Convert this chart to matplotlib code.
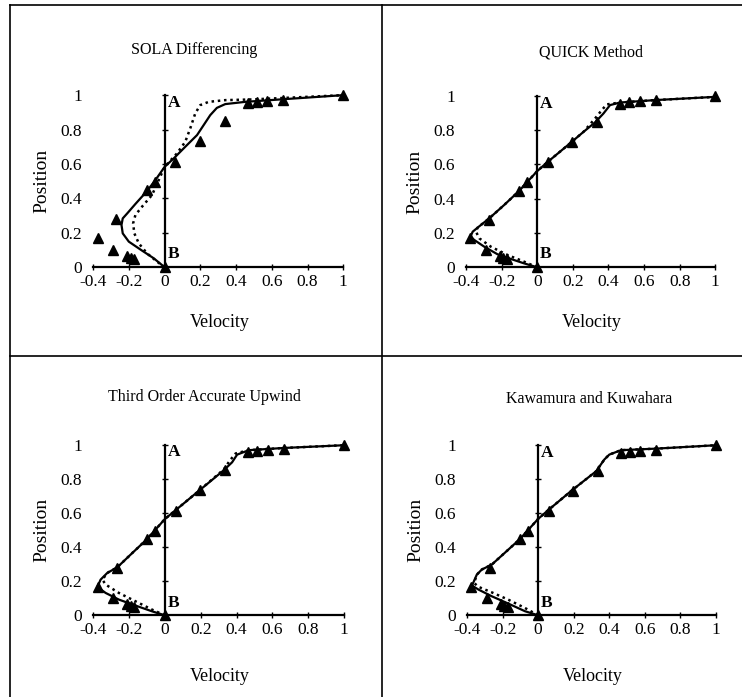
import numpy as np
import matplotlib
matplotlib.use("Agg")
import matplotlib.pyplot as plt
from matplotlib.lines import Line2D

plt.rcParams['font.family'] = ['Liberation Serif', 'DejaVu Serif']

# experimental data (triangles), same in every panel
exp_vel = [-0.375, -0.29, -0.27, -0.21, -0.19, -0.17, -0.10, -0.055, 0.0,
           0.06, 0.195, 0.335, 0.465, 0.515, 0.575, 0.665, 1.0]
exp_pos = [0.168, 0.10, 0.278, 0.065, 0.055, 0.05, 0.447, 0.495, 0.0,
           0.612, 0.732, 0.85, 0.955, 0.962, 0.968, 0.974, 1.0]

titles = ['SOLA Differencing', 'QUICK Method',
          'Third Order Accurate Upwind', 'Kawamura and Kuwahara']

# solid line (computed)
sola_vel = [0, -0.061, -0.127, -0.201, -0.235, -0.242, -0.235, -0.21, -0.164, -0.099,
            -0.052, 0, 0.05, 0.115, 0.181, 0.218, 0.255, 0.292, 0.339, 0.451, 0.674, 1.0]
sola_pos = [0, 0.052, 0.097, 0.149, 0.197, 0.246, 0.284, 0.313, 0.368, 0.443,
            0.507, 0.584, 0.632, 0.70, 0.768, 0.826, 0.884, 0.926, 0.948, 0.961, 0.977, 1.0]
quick_vel = [0, -0.074, -0.149, -0.223, -0.297, -0.353, -0.375, -0.362, -0.335, -0.27,
             -0.186, -0.102, -0.046, 0, 0.056, 0.19, 0.26, 0.325, 0.372, 0.409, 0.465, 0.66, 1.0]
quick_pos = [0, 0.023, 0.049, 0.076, 0.12, 0.159, 0.179, 0.208, 0.231, 0.285,
             0.363, 0.445, 0.509, 0.561, 0.612, 0.728, 0.79, 0.845, 0.897, 0.946, 0.961, 0.975, 0.994]
third_vel = [0, -0.071, -0.164, -0.257, -0.331, -0.377, -0.359, -0.322, -0.266, -0.182,
             -0.099, 0, 0.059, 0.193, 0.329, 0.375, 0.403, 0.468, 0.664, 1.0]
third_pos = [0, 0.023, 0.057, 0.092, 0.131, 0.166, 0.209, 0.248, 0.281, 0.365,
             0.447, 0.564, 0.615, 0.732, 0.85, 0.896, 0.941, 0.967, 0.98, 0.996]
kawa_vel = [0, -0.074, -0.168, -0.261, -0.335, -0.372, -0.345, -0.317, -0.261, -0.168,
            -0.102, 0, 0.056, 0.19, 0.326, 0.372, 0.40, 0.466, 0.661, 1.0]
kawa_pos = [0, 0.024, 0.069, 0.112, 0.151, 0.175, 0.239, 0.269, 0.298, 0.386,
            0.449, 0.567, 0.618, 0.735, 0.847, 0.916, 0.945, 0.971, 0.98, 1.0]

# dotted line
sola_dot_vel = [0, -0.043, -0.099, -0.145, -0.17, -0.177, -0.164, -0.127, -0.071, 0,
                0.069, 0.115, 0.143, 0.171, 0.199, 0.246, 0.339, 0.488, 1.0]
sola_dot_pos = [0, 0.033, 0.081, 0.139, 0.197, 0.255, 0.304, 0.352, 0.42, 0.584,
                0.662, 0.729, 0.807, 0.894, 0.942, 0.961, 0.971, 0.975, 1.0]
quick_dot_vel = [0, -0.074, -0.167, -0.26, -0.325, -0.344, -0.335, -0.27, -0.186, -0.102,
                 0, 0.056, 0.19, 0.26, 0.325, 0.362, 0.39, 0.465, 0.66, 1.0]
quick_dot_pos = [0, 0.033, 0.072, 0.12, 0.169, 0.208, 0.231, 0.285, 0.363, 0.445,
                 0.561, 0.612, 0.728, 0.79, 0.868, 0.916, 0.95, 0.961, 0.975, 0.994]
third_dot_vel = [0, -0.071, -0.164, -0.257, -0.331, -0.349, -0.322, -0.266, -0.182, -0.099,
                 0, 0.059, 0.193, 0.329, 0.365, 0.395, 0.468, 0.664, 1.0]
third_dot_pos = [0, 0.033, 0.082, 0.131, 0.18, 0.209, 0.248, 0.281, 0.365, 0.447,
                 0.564, 0.615, 0.732, 0.855, 0.91, 0.948, 0.967, 0.98, 0.996]
kawa_dot_vel = [0, -0.074, -0.168, -0.261, -0.335, -0.36, -0.345, -0.317, -0.261, -0.168,
                -0.102, 0, 0.056, 0.19, 0.326, 0.372, 0.40, 0.466, 0.661, 1.0]
kawa_dot_pos = [0, 0.043, 0.092, 0.135, 0.167, 0.19, 0.239, 0.269, 0.298, 0.386,
                0.449, 0.567, 0.618, 0.735, 0.847, 0.916, 0.945, 0.971, 0.98, 1.0]

solid = [(sola_vel, sola_pos), (quick_vel, quick_pos), (third_vel, third_pos), (kawa_vel, kawa_pos)]
dotted = [(sola_dot_vel, sola_dot_pos), (quick_dot_vel, quick_dot_pos),
          (third_dot_vel, third_dot_pos), (kawa_dot_vel, kawa_dot_pos)]

xticks = [-0.4, -0.2, 0, 0.2, 0.4, 0.6, 0.8, 1]
xticklabels = ['-0.4', '-0.2', '0', '0.2', '0.4', '0.6', '0.8', '1']
yticks = [0, 0.2, 0.4, 0.6, 0.8, 1]
yticklabels = ['0', '0.2', '0.4', '0.6', '0.8', '1']

fig = plt.figure(figsize=(7.42, 6.97), dpi=100)

# axes boxes [left, bottom, width, height] and title centres (figure fraction)
boxes = [[0.1257, 0.6165, 0.337, 0.247], [0.628, 0.6165, 0.336, 0.246],
         [0.1257, 0.1172, 0.338, 0.245], [0.6294, 0.1172, 0.3356, 0.244]]
title_xy = [(0.261, 0.928), (0.796, 0.924), (0.276, 0.43), (0.794, 0.428)]
xlabel_y = [-0.27, -0.27, -0.31, -0.31]

for i in range(4):
    ax = fig.add_axes(boxes[i])
    ax.set_xlim(-0.4, 1.0)
    ax.set_ylim(0, 1.0)
    ax.spines['top'].set_visible(False)
    ax.spines['right'].set_visible(False)
    ax.spines['left'].set_position(('data', 0))
    for s in ('left', 'bottom'):
        ax.spines[s].set_linewidth(1.6)
    ax.set_xticks(xticks)
    ax.set_xticklabels(xticklabels)
    ax.set_yticks(yticks)
    ax.set_yticklabels([])
    ax.tick_params(axis='both', direction='inout', length=4, width=1.0,
                   labelsize=12.5, pad=3)
    sec = ax.secondary_yaxis('left')
    sec.set_yticks(yticks)
    sec.set_yticklabels(yticklabels)
    sec.spines['left'].set_visible(False)
    sec.tick_params(length=0, pad=8, labelsize=12.5)

    sx, sy = solid[i]
    dx, dy = dotted[i]
    ax.plot(dx, dy, color='black', linestyle=(0, (1.0, 1.5)), linewidth=1.8, clip_on=False)
    ax.plot(sx, sy, color='black', linestyle='-', linewidth=1.6, clip_on=False)
    ax.plot(exp_vel, exp_pos, linestyle='none', marker='^', color='black',
            markersize=6.5, clip_on=False, zorder=5)

    ax.text(0.015, 0.955, 'A', fontsize=12.5, fontweight='bold', ha='left', va='center')
    ax.text(0.015, 0.075, 'B', fontsize=12.5, fontweight='bold', ha='left', va='center')

    ax.set_xlabel('Velocity', fontsize=13)
    ax.set_ylabel('Position', fontsize=14)
    ax.xaxis.set_label_coords(0.506, xlabel_y[i])
    ax.yaxis.set_label_coords(-0.17, 0.5)
    fig.text(title_xy[i][0], title_xy[i][1], titles[i], fontsize=11.5,
             ha='center', va='center')

# frame lines around the panels
top = 1 - 5 / 697
fig.add_artist(Line2D([9.5 / 742, 9.5 / 742], [0, top], color='black', lw=1.2))
fig.add_artist(Line2D([9.5 / 742, 1], [top, top], color='black', lw=1.2))
fig.add_artist(Line2D([382 / 742, 382 / 742], [0, top], color='black', lw=1.2))
fig.add_artist(Line2D([9.5 / 742, 1], [1 - 355.5 / 697, 1 - 355.5 / 697], color='black', lw=1.2))

fig.savefig('out.png', dpi=100)
